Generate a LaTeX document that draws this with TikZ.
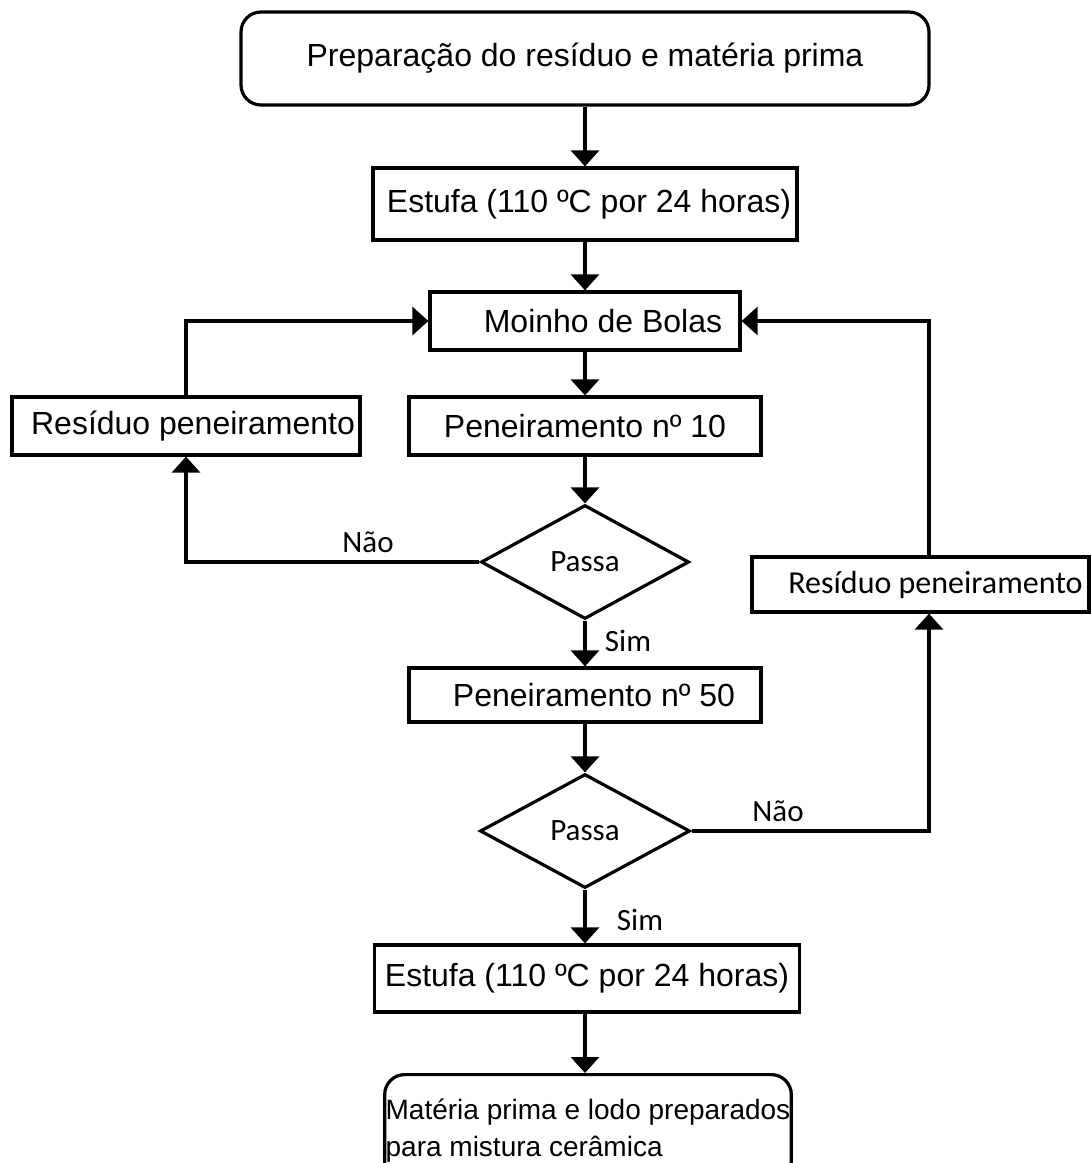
\documentclass[tikz,border=0pt]{standalone}
\usepackage{fontspec}
\setmainfont{Liberation Sans}
\newfontfamily\calib{Carlito}
\usetikzlibrary{shapes.geometric,arrows.meta}

\tikzset{
    box/.style={draw, line width=1.6pt, inner sep=0pt, font=\fontsize{16}{19}\selectfont},
    roundbox/.style={box, rounded corners=10pt},
    decision/.style={diamond, draw, line width=1.6pt, inner sep=0pt, minimum width=104pt, minimum height=57pt, font=\calib\fontsize{15.5}{18}\selectfont},
    arr/.style={-{Triangle[length=8pt,width=14pt]}, line width=1.6pt},
    lbl/.style={font=\calib\fontsize{15.5}{18}\selectfont}
}

\begin{document}
\begin{tikzpicture}[x=0.5pt,y=-0.5pt]
    \useasboundingbox (0,0) rectangle (1091,1163);

    \node[roundbox, minimum width=344pt, minimum height=46.5pt] (prep) at (585,58.5) {Preparação do resíduo e matéria prima};
    \node[box, minimum width=212pt, minimum height=36pt] (est1) at (585,204) {\hspace*{4pt}Estufa (110 ºC por 24 horas)};
    \node[box, minimum width=155pt, minimum height=29pt] (moinho) at (585,321) {\hspace*{18pt}Moinho de Bolas};
    \node[box, minimum width=176pt, minimum height=29pt] (pen10) at (585,426) {Peneiramento nº 10};
    \node[box, minimum width=174pt, minimum height=29pt] (resL) at (186,426) {\hspace*{7pt}Resíduo peneiramento};

    \node[decision] (pass1) at (585,562) {Passa};
    \node[box, font=\calib\fontsize{16}{19}\selectfont, minimum width=168.5pt, minimum height=27.5pt] (resR) at (920.5,584.5) {\hspace*{15pt}Resíduo peneiramento};

    \node[box, minimum width=176pt, minimum height=27pt] (pen50) at (585,695) {\hspace*{9pt}Peneiramento nº 50};
    \node[decision, minimum width=105pt] (pass2) at (585,831) {Passa};
    \node[box, minimum width=212.5pt, minimum height=33.5pt] (est2) at (587,978.5) {Estufa (110 ºC por 24 horas)};
    \node[roundbox, anchor=north, minimum width=203pt, minimum height=56pt, inner xsep=0.5pt, align=left, font=\fontsize{14}{18.5}\selectfont] (final) at (588,1073) {Matéria prima e lodo preparados\\para mistura cerâmica};

    \node[lbl] (nao1) at (368,542) {Não};
    \node[lbl] (sim1) at (628,641) {Sim};
    \node[lbl] (nao2) at (778,811) {Não};
    \node[lbl] (sim2) at (640,920) {Sim};
    \coordinate (rcol) at (929,0);

    \draw[arr] (prep) -- (est1);
    \draw[arr] (est1) -- (moinho);
    \draw[arr] (moinho) -- (pen10);
    \draw[arr] (pen10) -- (pass1);
    \draw[arr] (pass1) -- (pen50);
    \draw[arr] (pen50) -- (pass2);
    \draw[arr] (pass2) -- (est2.north -| pass2);
    \draw[arr] (est2.south -| pass2) -- (final.north -| pass2);

    \draw[arr] (pass1.west) -| (resL.south);
    \draw[arr] (resL.north) |- (moinho.west);
    \draw[arr] (pass2.east) -| (rcol |- resR.south);
    \draw[arr] (rcol |- resR.north) |- (moinho.east);
\end{tikzpicture}
\end{document}
